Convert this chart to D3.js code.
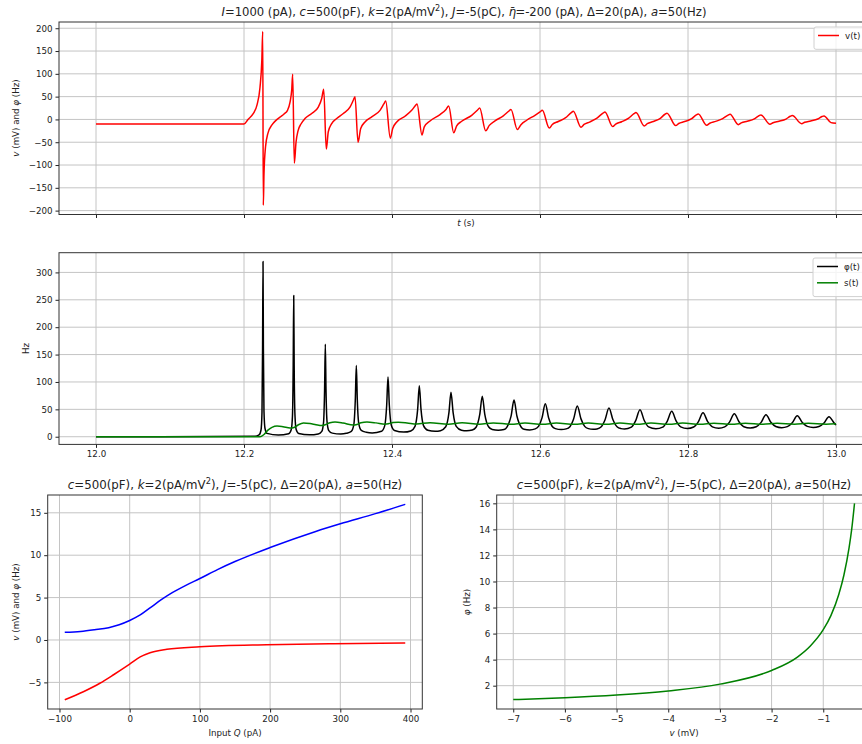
<!DOCTYPE html>
<html>
<head>
<meta charset="utf-8">
<script src="https://cdn.jsdelivr.net/npm/d3@7"></script>
<style>
  body { margin: 0; background: #fff; }
  text { font-family: "DejaVu Sans", sans-serif; fill: #222; }
</style>
</head>
<body>
<script>

// ---- data ----
// membrane potential v(t) [t (s), mV]
var vTrace = [[12.0000,-10],[12.2000,-10],[12.2054,0],[12.2122,12],[12.2176,32],[12.2216,70],[12.2241,130],[12.2253,193],
  [12.2261,-188],[12.2270,-120],[12.2291,-60],[12.2324,-30],[12.2378,-12],[12.2432,-2],[12.2486,5],[12.2541,12],[12.2588,20],[12.2622,38],[12.2645,65],[12.2658,99],
  [12.2680,-96],[12.2703,-50],[12.2730,-25],[12.2770,-10],[12.2824,2],[12.2915,13],[12.3004,27],[12.3050,46],[12.3077,66],
  [12.3112,-65],[12.3139,-27],[12.3185,-9],[12.3253,2],[12.3342,13],[12.3432,27],[12.3477,42],[12.3500,50],
  [12.3541,-50],[12.3577,-20],[12.3635,-5.5],[12.3726,5.5],[12.3838,20],[12.3892,34.6],[12.3915,40.5],
  [12.3977,-41],[12.4009,-20],[12.4064,-5.5],[12.4176,7],[12.4266,20],[12.4320,31],[12.4338,34],
  [12.4405,-34],[12.4436,-16.4],[12.4514,-3.3],[12.4649,10.6],[12.4730,22],[12.4766,29.6],
  [12.4834,-29],[12.4874,-14],[12.4942,-4],[12.5077,9],[12.5153,20],[12.5185,25],
  [12.5266,-25],[12.5315,-13],[12.5392,-3],[12.5504,7.7],[12.5577,18],[12.5608,22],
  [12.5693,-22],[12.5743,-11.4],[12.5820,-1.8],[12.5932,9],[12.6000,16.4],[12.6031,20],
  [12.6126,-19],[12.6166,-11],[12.6247,-4.5],[12.6342,3.2],[12.6423,15],[12.6450,18],
  [12.6554,-17],[12.6595,-11],[12.6676,-5.3],[12.6770,3],[12.6851,13.7],[12.6878,16.4],
  [12.6982,-15.7],[12.7023,-10.2],[12.7104,-5],[12.7199,2.7],[12.7270,12.5],[12.7297,15],
  [12.7409,-14.3],[12.7450,-9.3],[12.7531,-4.5],[12.7626,2.4],[12.7689,11.4],[12.7716,13.6],
  [12.7834,-13.5],[12.7874,-8.9],[12.7955,-4.6],[12.8050,1.8],[12.8112,10],[12.8139,12],
  [12.8253,-12.8],[12.8293,-8.4],[12.8374,-4.3],[12.8469,1.7],[12.8541,9.5],[12.8568,11.4],
  [12.8680,-11.4],[12.8720,-7.6],[12.8801,-3.9],[12.8896,1.4],[12.8959,8.2],[12.8986,9.9],
  [12.9108,-10.6],[12.9149,-7.2],[12.9230,-4],[12.9324,0.8],[12.9382,6.9],[12.9409,8.4],
  [12.9536,-9.2],[12.9577,-6.2],[12.9658,-3.3],[12.9753,1],[12.9811,6.4],[12.9838,7.7],
  [12.9932,-7],[13.0000,-8.4]];

// firing rate phi(t) [t (s), Hz]
var phiTrace = [[12.0000,0],[12.2149,0.8],[12.2203,3.2],[12.2230,12.3],[12.2243,44],[12.2251,160],[12.2257,320],[12.2262,161.5],[12.2270,46.7],[12.2284,15],[12.2311,6.1],[12.2464,3],
  [12.2604,5.5],[12.2638,12.7],[12.2655,38],[12.2665,130.5],[12.2672,258],[12.2678,130.5],[12.2689,38.5],[12.2705,13.2],[12.2739,6],[12.2885,3.5],
  [12.3004,5.1],[12.3051,9.8],[12.3075,26.3],[12.3089,85.5],[12.3099,169],[12.3108,86.5],[12.3122,27.6],[12.3146,11.2],[12.3193,6.6],[12.3308,5],
  [12.3382,6.2],[12.3450,9.7],[12.3484,22],[12.3504,67],[12.3518,130],[12.3531,68],[12.3551,24],[12.3585,11.6],[12.3653,8.2],[12.3732,7],
  [12.3858,10],[12.3902,20.3],[12.3928,57],[12.3946,109],[12.3964,57.5],[12.3990,21.5],[12.4034,11.5],[12.4158,8.5],
  [12.4254,10.6],[12.4311,19],[12.4346,49],[12.4369,93],[12.4392,50],[12.4426,20.4],[12.4484,12],[12.4584,10],
  [12.4655,11.1],[12.4726,18.2],[12.4769,43.4],[12.4797,81],[12.4826,44],[12.4868,19],[12.4939,12],[12.5009,11],
  [12.5085,12.3],[12.5136,17.3],[12.5186,40.6],[12.5220,74],[12.5254,41],[12.5305,18.2],[12.5355,13.2],[12.5435,12],
  [12.5514,13.1],[12.5551,17],[12.5609,37.6],[12.5649,67],[12.5688,37.8],[12.5747,17.4],[12.5784,13.6],[12.5861,12.5],
  [12.5936,14.3],[12.5982,19.2],[12.6027,34.4],[12.6072,60],[12.6116,34.6],[12.6161,19.6],[12.6207,14.8],[12.6288,13],
  [12.6354,14.3],[12.6404,18.4],[12.6454,32.4],[12.6504,56],[12.6554,32.6],[12.6604,18.9],[12.6654,14.8],[12.6719,13.5],
  [12.6770,14.3],[12.6824,17.8],[12.6878,30.6],[12.6932,52.4],[12.6986,30.9],[12.7041,18.2],[12.7095,14.8],[12.7142,14],
  [12.7235,17.5],[12.7293,29.4],[12.7351,49.3],[12.7409,29.6],[12.7468,18],[12.7566,14.5],
  [12.7658,17.6],[12.7719,28.2],[12.7780,46.3],[12.7841,28.5],[12.7901,18],[12.7992,15],
  [12.8076,17.7],[12.8139,27.2],[12.8203,43.8],[12.8266,27.5],[12.8330,18.1],[12.8415,15.5],
  [12.8496,17.9],[12.8561,26.6],[12.8626,42],[12.8691,26.9],[12.8755,18.3],[12.8841,16],
  [12.8922,18.2],[12.8988,26.2],[12.9054,40.2],[12.9120,26.4],[12.9186,18.6],[12.9266,16.5],
  [12.9342,18.4],[12.9409,25.5],[12.9477,38.3],[12.9545,25.8],[12.9612,18.9],[12.9692,17],
  [12.9770,18.7],[12.9838,25.1],[12.9905,36.5],[12.9973,25.3],[13.0000,21.5]];

// synaptic activation s(t) [t (s), Hz]
var sTrace = [[12.0000,0],[12.2189,0],[12.2230,0.5],[12.2270,4],[12.2324,12],[12.2378,17],[12.2446,19.5],[12.2527,18.3],[12.2622,16],
  [12.2676,17],[12.2730,21.5],[12.2804,25],[12.2892,24],[12.2973,22],[12.3050,20.5],[12.3108,22.5],[12.3162,25.5],[12.3230,26.8],
  [12.3338,25],[12.3477,21.2],[12.3527,22.5],[12.3581,25.5],[12.3662,26.8],[12.3784,25.3],[12.3905,23],[12.3959,24],[12.4014,25.8],
  [12.4085,26.3],[12.4203,25.2],[12.4331,23.3],[12.4514,25.6],[12.4761,22.6],[12.4946,25.4],[12.5182,22.6],[12.5369,25.3],
  [12.5608,22.6],[12.5797,25.2],[12.6034,22.6],[12.6220,25.1],[12.6466,22.7],[12.6653,25],[12.6892,22.7],[12.7081,25],
  [12.7311,22.8],[12.7500,24.9],[12.7743,22.8],[12.7928,24.9],[12.8162,22.9],[12.8351,24.8],[12.8588,22.9],[12.8774,24.8],
  [12.9014,22.9],[12.9203,24.7],[12.9439,23],[12.9626,24.7],[12.9865,23],[13.0000,23.6]];

// steady state vs input Q
var qInput = [-92.5, -70, -50, -30, -15, 0, 15, 30, 45, 60, 80, 100, 125, 150, 200, 265, 300, 350, 392.5];
var phiQ   = [0.9, 1.0, 1.2, 1.45, 1.8, 2.3, 2.95, 3.85, 4.75, 5.55, 6.45, 7.25, 8.3, 9.25, 10.9, 12.8, 13.7, 14.9, 16.0];
var qInputV = [-92.5, -66, -42.5, -23, 0, 15, 29, 53, 100, 195, 290, 392.5];
var vQ      = [-7.05, -6.1, -5.1, -4.1, -2.85, -2.0, -1.5, -1.1, -0.8, -0.56, -0.45, -0.36];

// phi as a function of v
var vRest   = [-7, -6, -5, -4, -3, -2, -1.5, -1.25, -1, -0.85, -0.7, -0.6, -0.5, -0.45, -0.395];
var phiRest = [0.93, 1.07, 1.28, 1.6, 2.12, 3.17, 4.2, 5.05, 6.3, 7.4, 9.0, 10.5, 12.6, 14.0, 16];

var timeTicks = [12.0, 12.2, 12.4, 12.6, 12.8, 13.0];
var vTicks = [-200, -150, -100, -50, 0, 50, 100, 150, 200];
var hzTicks = [0, 50, 100, 150, 200, 250, 300];
var qTicks = [-100, 0, 100, 200, 300, 400];
var vqTicks = [-5, 0, 5, 10, 15];
var vRestTicks = [-7, -6, -5, -4, -3, -2, -1];
var phiRestTicks = [2, 4, 6, 8, 10, 12, 14, 16];

// ---- drawing ----
var FS = 8.7, TS = 11.6, TS2 = 11.8;
var GRID = "#c4c4c4";

var svg = d3.select("body").append("svg").attr("width", 862).attr("height", 744);

function rich(sel, parts, size) {
  var up = 0;
  parts.forEach(function(p) {
    var t = sel.append("tspan").text(p[0]);
    if (up) { t.attr("dy", up); up = 0; }
    if (p[1] == "i") t.attr("font-style", "italic");
    if (p[1] == "sup") { t.attr("font-size", size * 0.7).attr("dy", -size * 0.4); up = size * 0.4; }
    if (p[1] == "bar") t.attr("dx", "-0.55em");
  });
  return sel;
}

function panel(c) {
  var x = c.x, y = c.y;
  var L = x.range()[0], R = x.range()[1], T = y.range()[1], B = y.range()[0];
  var g = svg.append("g");

  g.selectAll(null).data(c.xticks).enter().append("line")
    .attr("x1", d => x(d)).attr("x2", d => x(d)).attr("y1", T).attr("y2", B)
    .attr("stroke", GRID).attr("stroke-width", 1);
  g.selectAll(null).data(c.yticks).enter().append("line")
    .attr("x1", L).attr("x2", R).attr("y1", d => y(d)).attr("y2", d => y(d))
    .attr("stroke", GRID).attr("stroke-width", 1);

  c.series.forEach(function(s) {
    g.append("path").datum(s.data)
      .attr("d", d3.line().x(d => x(d[0])).y(d => y(d[1])).curve(d3.curveMonotoneX))
      .attr("fill", "none").attr("stroke", s.color).attr("stroke-width", 1.5)
      .attr("stroke-linejoin", "round");
  });

  var xa = g.append("g").attr("transform", "translate(0," + B + ")")
    .call(d3.axisBottom(x).tickValues(c.xticks).tickSize(3.5).tickPadding(3).tickFormat(c.xfmt));
  var ya = g.append("g").attr("transform", "translate(" + L + ",0)")
    .call(d3.axisLeft(y).tickValues(c.yticks).tickSize(3.5).tickPadding(3).tickFormat(d3.format("d")));
  [xa, ya].forEach(function(a) {
    a.select(".domain").remove();
    a.attr("font-size", FS).attr("font-family", "DejaVu Sans").attr("color", "#222");
  });

  g.append("rect").attr("x", L).attr("y", T).attr("width", R - L).attr("height", B - T)
    .attr("fill", "none").attr("stroke", "#333").attr("stroke-width", 1);
  return g;
}

function legend(x0, y0, w, items) {
  var g = svg.append("g");
  g.append("rect").attr("x", x0).attr("y", y0).attr("width", w).attr("height", 6 + items.length * 16.3)
    .attr("rx", 2).attr("fill", "#fff").attr("fill-opacity", 0.8).attr("stroke", "#d0d0d0");
  items.forEach(function(it, i) {
    var yy = y0 + 8.5 + i * 16.3;
    g.append("line").attr("x1", x0 + 4).attr("x2", x0 + 25).attr("y1", yy).attr("y2", yy)
      .attr("stroke", it.color).attr("stroke-width", 1.5);
    g.append("text").attr("x", x0 + 31).attr("y", yy + 3.1).attr("font-size", FS).text(it.label);
  });
}

var tx = d3.scaleLinear().domain([11.95, 13.05]).range([59, 873]);

// top: v(t)
panel({
  x: tx, y: d3.scaleLinear().domain([-208.5, 213.7]).range([214.5, 22]),
  xticks: timeTicks, yticks: vTicks, xfmt: "",
  series: [{ data: vTrace, color: "#ff0000" }]
});
legend(814, 27, 56, [{ label: "v(t)", color: "#ff0000" }]);

rich(svg.append("text").attr("x", 464).attr("y", 16).attr("text-anchor", "middle").attr("font-size", TS),
  [["I", "i"], ["=1000 (pA), "], ["c", "i"], ["=500(pF), "], ["k", "i"], ["=2(pA/mV"], ["2", "sup"], ["), "],
   ["J", "i"], ["=-5(pC), "], ["\u03b7", "i"], ["\u00af", "bar"], ["=-200 (pA), \u0394=20(pA), "], ["a", "i"], ["=50(Hz)"]], TS);
rich(svg.append("text").attr("x", 466).attr("y", 226).attr("text-anchor", "middle").attr("font-size", FS),
  [["t", "i"], [" (s)"]], FS);
rich(svg.append("text").attr("transform", "translate(19,118) rotate(-90)").attr("text-anchor", "middle").attr("font-size", FS),
  [["v", "i"], [" (mV) and "], ["\u03c6", "i"], [" (Hz)"]], FS);

// middle: phi(t), s(t)
panel({
  x: tx, y: d3.scaleLinear().domain([-14, 336]).range([444.4, 252.7]),
  xticks: timeTicks, yticks: hzTicks, xfmt: d3.format(".1f"),
  series: [{ data: phiTrace, color: "#000000" }, { data: sTrace, color: "#008000" }]
});
legend(813, 258, 57, [{ label: "\u03c6(t)", color: "#000000" }, { label: "s(t)", color: "#008000" }]);
svg.append("text").attr("transform", "translate(29,348.5) rotate(-90)").attr("text-anchor", "middle")
  .attr("font-size", FS).text("Hz");

var subTitle = [["c", "i"], ["=500(pF), "], ["k", "i"], ["=2(pA/mV"], ["2", "sup"], ["), "],
  ["J", "i"], ["=-5(pC), \u0394=20(pA), "], ["a", "i"], ["=50(Hz)"]];

// bottom left: v and phi vs Q
panel({
  x: d3.scaleLinear().domain([-116.8, 416.8]).range([47.7, 422.3]),
  y: d3.scaleLinear().domain([-8.14, 17.1]).range([709, 495]),
  xticks: qTicks, yticks: vqTicks, xfmt: d3.format("d"),
  series: [{ data: qInput.map((q, i) => [q, phiQ[i]]), color: "#0000ff" },
           { data: qInputV.map((q, i) => [q, vQ[i]]), color: "#ff0000" }]
});
rich(svg.append("text").attr("x", 235).attr("y", 489).attr("text-anchor", "middle").attr("font-size", TS2), subTitle, TS2);
rich(svg.append("text").attr("x", 235).attr("y", 736).attr("text-anchor", "middle").attr("font-size", FS),
  [["Input "], ["Q", "i"], [" (pA)"]], FS);
rich(svg.append("text").attr("transform", "translate(18.5,602) rotate(-90)").attr("text-anchor", "middle").attr("font-size", FS),
  [["v", "i"], [" (mV) and "], ["\u03c6", "i"], [" (Hz)"]], FS);

// bottom right: phi vs v
panel({
  x: d3.scaleLinear().domain([-7.32, -0.08]).range([496.7, 870.8]),
  y: d3.scaleLinear().domain([0.21, 16.64]).range([709, 495]),
  xticks: vRestTicks, yticks: phiRestTicks, xfmt: d3.format("d"),
  series: [{ data: vRest.map((v, i) => [v, phiRest[i]]), color: "#008000" }]
});
rich(svg.append("text").attr("x", 684).attr("y", 489).attr("text-anchor", "middle").attr("font-size", TS2), subTitle, TS2);
rich(svg.append("text").attr("x", 684).attr("y", 736).attr("text-anchor", "middle").attr("font-size", FS),
  [["v", "i"], [" (mV)"]], FS);
rich(svg.append("text").attr("transform", "translate(469.5,602) rotate(-90)").attr("text-anchor", "middle").attr("font-size", FS),
  [["\u03c6", "i"], [" (Hz)"]], FS);

</script>
</body>
</html>
